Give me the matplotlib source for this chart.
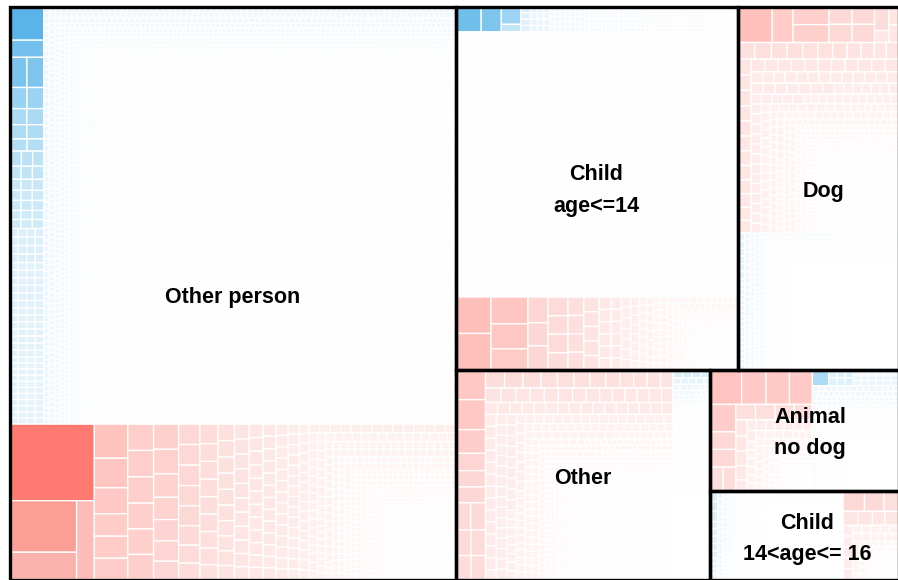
import matplotlib
matplotlib.use("Agg")
import numpy as np
import matplotlib.pyplot as plt
from matplotlib.collections import PolyCollection
from matplotlib.colors import LinearSegmentedColormap, LogNorm, to_rgb
from matplotlib.patches import Rectangle

plt.rcParams['font.family'] = ['Liberation Sans', 'DejaVu Sans']


def stack(value, per_group, groups):
    return [[value] * per_group for _ in range(groups)]


# ---- data: sizes of the groups -------------------------------------------
panel_names = ["Other person", "Child\nage<=14", "Dog", "Other", "Animal\nno dog", "Child\n14<age<= 16"]
panel_blue = [185982, 81780, 21840, 7751, 10449, 11660]
panel_red = [69352, 20586, 36240, 45461, 12393, 4884]

# ---- data: leading cells (strips of explicit values), then (value, count) runs
op_red_head = [
    ('v', [6536, [[3468, 1836], 1404]]),
    ('v', [1150, 990, 870, 750, 740, 710]),
    ('v', [690, 685, 680, 670, 660, 650]),
    ('v', [640, 615, 590, 560, 535, 510, 460]),
    ('v', [440, 440, 435, 430, 425, 415, 380, 350]),
    ('v', [360, 325, 325, 320, 320, 315, 305, 300, 270]),
    ('v', [275, 270, 265, 265, 260, 255, 250, 245, 240, 230]),
    ('v', [225, 222, 220, 218, 215, 212, 210, 205, 200, 195, 190]),
    ('v', [190, 188, 186, 184, 182, 180, 178, 176, 174, 172, 170, 165]),
    ('v', [165, 164, 163, 162, 160, 160, 158, 157, 156, 155, 154, 153, 153]),
    ('v', [140, 139, 138, 137, 136, 135, 135, 135, 134, 134, 133, 133, 131, 130]),
]
op_red_tail = [(115, 15), (95, 30), (75, 40), (55, 60), (40, 80), (28, 120), (18, 180), (10, 300), (5, 500)]

op_blue_head = [
    ('v', [1155, 586, [525, 510], [370, 355], [280, 272], [245, 240], [215, 205],
           [180, 170, 167], [152, 148, 148], [128, 126, 126],
           *stack(115, 3, 2), *stack(103, 3, 2), *stack(73, 4, 4), *stack(65, 4, 6),
           *stack(60, 4, 7), *stack(52, 4, 11)]),
]
op_blue_tail = [(36, 130), (30, 200), (25, 250), (20, 350), (16, 450), (12, 700), (9, 1000),
                (7, 1500), (5, 2500), (4, 3500), (3, 28800)]

child_blue_head = [
    ('h', [637, 510, [346, 145], [64, 64, 64, 64], *stack(41, 4, 3), *stack(25, 5, 7),
           *stack(18, 6, 14), *stack(12.8, 7, 17), *stack(9.6, 8, 11)]),
]
child_blue_tail = [(7, 400), (6, 800), (5, 1200), (4, 2000), (3, 17700)]

child_red_head = [
    ('v', [1280, 1270]),
    ('v', [1000, 925, 777]),
    ('v', [520, 460, 480]),
    ('v', [380, 370, 370, 340]),
    ('v', [295, 290, 290, 280]),
    ('v', [225, 222, 220, 218, 215]),
    ('v', [155, 152, 150, 148, 146, 144]),
    ('v', [127, 126, 125, 125, 124, 123]),
    ('v', [99, 98, 98, 97, 97, 96, 95]),
    ('v', [79, 78, 78, 77, 77, 76, 76, 75]),
]
child_red_tail = [(60, 16), (45, 30), (32, 35), (22, 50), (14, 70), (8, 100), (4, 230)]

dog_red_head = [
    ('h', [1220, 750, [650, 640], [410, 420], [400, 410], [340, 170], [180, 170]]),
    ('h', [270, 275, 260, 255, 250, 245, 240, 230, 215, 200, 200]),
    ('v', [205, 200, 200, 195, 195, 190, 190, 185, 180, 175, 170, 165]),
]
dog_red_tail = [(170, 11), (130, 20), (100, 25), (75, 35), (55, 45), (38, 65), (25, 90),
                (15, 150), (9, 250), (5, 500), (3, 600)]
dog_blue_head = []
dog_blue_tail = [(50, 6), (35, 30), (25, 50), (18, 70), (12, 100), (8, 180), (5, 400), (3, 600), (2, 6000)]

other_red_head = [
    ('v', [880, 880, 700, 510, 480, 465, [400, 400], [380, 375], [355, 350]]),
    ('h', [345, 330, 325, 300, 295, 290, 285, 255, 250, 245, 240, 230]),
    ('h', [220, 220, 205, 205, 205, 205, 195, 195, 185, 185, 175, 175, 175, 170]),
    ('h', [145, 145, 145, 145, 140, 140, 140, 140, 140, 140, 140, 140, 135, 135, 135, 135]),
]
other_red_tail = [(130, 13), (105, 26), (85, 32), (65, 40), (48, 55), (35, 70), (24, 100),
                  (16, 150), (10, 240), (6, 400), (3, 1800), (2, 550)]
other_blue_head = []
other_blue_tail = [(75, 4), (50, 4), (40, 5), (30, 6), (24, 7), (18, 8), (14, 9), (10, 10),
                   (8, 50), (5, 200), (3, 600), (2, 1600)]

animal_red_head = [
    ('h', [1080, 840, 810, 790]),
    ('v', [700, 450, 450, [310, 310]]),
    ('h', [300, 300, 290, 280]),
    ('v', [180, 170, 165, 160, 130]),
]
animal_red_tail = [(100, 8), (75, 10), (55, 14), (40, 15), (28, 20), (18, 30), (10, 64)]
animal_blue_head = [
    ('h', [260, *stack(66, 2, 3), *stack(40, 3, 6)]),
]
animal_blue_tail = [(35, 12), (28, 18), (22, 24), (17, 35), (13, 45), (9, 75), (6, 130),
                    (4, 250), (2.5, 600), (2, 1250)]

c14_blue_head = []
c14_blue_tail = [(75, 3), (55, 5), (40, 6), (30, 10), (22, 15), (16, 25), (12, 40), (8, 70),
                 (5, 150), (3, 600), (2, 3150)]
c14_red_head = [
    ('h', [430, 390, 290]),
    ('h', [210, 205, 175, 190]),
]
c14_red_tail = [(105, 5), (75, 7), (55, 8), (40, 10), (25, 14), (15, 20), (8, 40), (4, 40)]

# colour scale read from the cells: value -> colour
red_levels = [1, 5, 20, 60, 150, 300, 500, 800, 1200, 1700, 3400, 6500]
red_colors = ['#FFFFFF', '#FFFDFD', '#FFF9F8', '#FFF3F2', '#FEE9E7', '#FDDFDD',
              '#FDD6D3', '#FFCAC6', '#FFC2BD', '#FAB5B0', '#FB9F96', '#FF7A70']
blue_levels = [1, 5, 15, 36, 60, 120, 200, 300, 450, 560, 1150]
blue_colors = ['#FFFFFF', '#FCFEFF', '#F6FBFE', '#EDF7FD', '#E2F2FB', '#CAE8F9',
               '#B5DEF5', '#A8D9F4', '#8BCBF0', '#75C1EC', '#5AB4E8']

# ---- layout ---------------------------------------------------------------
FRAME = (9.5, 6.5, 889.0, 573.0)  # x, y, width, height in pixels
PANEL_SPLITS = ['v', 'v', 'v', 'h', 'h', 'h']
BORDER_LW = 2.4
CELL_LW = 0.95
LABEL_SIZE = 15.5
LABEL_XY = [(232.5, 297), (596.5, 190.5), (824, 191), (582.5, 478), (810, 433), (807, 539)]
LABEL_SPACING = 31.5


def make_map(levels, colors):
    lo, hi = np.log(levels[0]), np.log(levels[-1])
    stops = [((np.log(v) - lo) / (hi - lo), to_rgb(c)) for v, c in zip(levels, colors)]
    return LinearSegmentedColormap.from_list('m', stops, N=1024), LogNorm(levels[0], levels[-1])


def total(item):
    return sum(total(i) for i in item) if isinstance(item, list) else item


def slice_tree(item, x, y, w, h, horiz, scale, out):
    """Slice-and-dice: lists alternate their direction."""
    if not isinstance(item, list):
        out.append((x, y, w, h, item))
        return
    t = total(item)
    for child in item:
        f = total(child) / t
        if horiz:
            slice_tree(child, x, y, w * f, h, False, scale, out)
            x += w * f
        else:
            slice_tree(child, x, y, w, h * f, True, scale, out)
            y += h * f


def squarify(vals, raw, x, y, w, h, out):
    n, i = len(vals), 0
    while i < n and w > 1e-9 and h > 1e-9:
        side = min(w, h)
        j, s = i + 1, vals[i]
        worst = max(side * side * vals[i] / (s * s), s * s / (side * side * vals[i]))
        while j < n:
            s2 = s + vals[j]
            new = max(side * side * vals[i] / (s2 * s2), s2 * s2 / (side * side * vals[j]))
            if new > worst:
                break
            s, worst = s2, new
            j += 1
        thick = s / side
        if w >= h:
            yy = y
            for k in range(i, j):
                c = vals[k] / thick
                out.append((x, yy, thick, c, raw[k]))
                yy += c
            x += thick
            w -= thick
        else:
            xx = x
            for k in range(i, j):
                c = vals[k] / thick
                out.append((xx, y, c, thick, raw[k]))
                xx += c
            y += thick
            h -= thick
        i = j


def treemap(head, tail, x, y, w, h):
    out = []
    tail_vals = np.repeat([v for v, _ in tail], [c for _, c in tail]).astype(float)
    whole = sum(total(s) for _, s in head) + tail_vals.sum()
    scale = w * h / whole
    for kind, strip in head:
        t = total(strip) * scale
        if kind == 'v':
            thick = t / h
            slice_tree(strip, x, y, thick, h, False, scale, out)
            x += thick
            w -= thick
        else:
            thick = t / w
            slice_tree(strip, x, y, w, thick, True, scale, out)
            y += thick
            h -= thick
    squarify((tail_vals * scale).tolist(), tail_vals.tolist(), x, y, w, h, out)
    return out


fig = plt.figure(figsize=(8.98, 5.80), dpi=100)
ax = fig.add_axes([0, 0, 1, 1])
ax.set_xlim(0, 898)
ax.set_ylim(580, 0)
ax.axis('off')

# group rectangles from the group sizes
sizes = [b + r for b, r in zip(panel_blue, panel_red)]
fx, fy, fw, fh = FRAME
rects = []
left_w = fw * sizes[0] / sum(sizes)
rects.append((fx, fy, left_w, fh))
rx, rw = fx + left_w, fw - left_w
top = sizes[1] + sizes[2]
bottom = sizes[3] + sizes[4] + sizes[5]
top_h = fh * top / (top + bottom)
rects.append((rx, fy, rw * sizes[1] / top, top_h))
rects.append((rx + rw * sizes[1] / top, fy, rw * sizes[2] / top, top_h))
by, bh = fy + top_h, fh - top_h
ow = rw * sizes[3] / bottom
rects.append((rx, by, ow, bh))
ah = bh * sizes[4] / (sizes[4] + sizes[5])
rects.append((rx + ow, by, rw - ow, ah))
rects.append((rx + ow, by + ah, rw - ow, bh - ah))

specs = [
    (('b', op_blue_head, op_blue_tail), ('r', op_red_head, op_red_tail)),
    (('b', child_blue_head, child_blue_tail), ('r', child_red_head, child_red_tail)),
    (('r', dog_red_head, dog_red_tail), ('b', dog_blue_head, dog_blue_tail)),
    (('r', other_red_head, other_red_tail), ('b', other_blue_head, other_blue_tail)),
    (('r', animal_red_head, animal_red_tail), ('b', animal_blue_head, animal_blue_tail)),
    (('b', c14_blue_head, c14_blue_tail), ('r', c14_red_head, c14_red_tail)),
]

cells = {'r': [], 'b': []}
for i, (rect, split, spec) in enumerate(zip(rects, PANEL_SPLITS, specs)):
    x, y, w, h = rect
    amount = {'r': panel_red[i], 'b': panel_blue[i]}
    first, second = spec
    f = amount[first[0]] / (amount['r'] + amount['b'])
    if split == 'v':
        cells[first[0]] += treemap(first[1], first[2], x, y, w, h * f)
        cells[second[0]] += treemap(second[1], second[2], x, y + h * f, w, h * (1 - f))
    else:
        cells[first[0]] += treemap(first[1], first[2], x, y, w * f, h)
        cells[second[0]] += treemap(second[1], second[2], x + w * f, y, w * (1 - f), h)

for key, levels, colors in (('r', red_levels, red_colors), ('b', blue_levels, blue_colors)):
    cmap, norm = make_map(levels, colors)
    arr = np.array(cells[key])
    xs, ys, ws, hs, vs = arr.T
    verts = np.stack([np.c_[xs, ys], np.c_[xs + ws, ys], np.c_[xs + ws, ys + hs], np.c_[xs, ys + hs]], axis=1)
    coll = PolyCollection(verts, facecolors=cmap(norm(np.clip(vs, levels[0], levels[-1]))),
                          edgecolors='white', linewidths=CELL_LW, zorder=1)
    coll.set_snap(False)
    ax.add_collection(coll)

for (x, y, w, h) in rects:
    ax.add_patch(Rectangle((x, y), w, h, fill=False, edgecolor='black', linewidth=BORDER_LW,
                           joinstyle='miter', zorder=3))

for name, (lx, ly) in zip(panel_names, LABEL_XY):
    parts = name.split('\n')
    for k, part in enumerate(parts):
        ax.text(lx, ly + (k - (len(parts) - 1) / 2) * LABEL_SPACING, part, ha='center', va='center',
                fontsize=LABEL_SIZE, fontweight='bold', color='black', zorder=4)

fig.savefig('out.png', dpi=100)
